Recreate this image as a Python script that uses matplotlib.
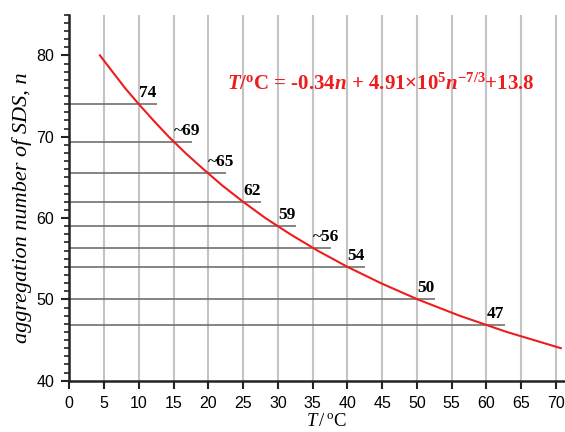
import matplotlib
matplotlib.use('Agg')
import matplotlib.pyplot as plt
from matplotlib.ticker import MultipleLocator

### curve: temperature (C) vs aggregation number
curve_T = [4.4, 6.2, 8.0, 10.0, 12.1, 14.3, 16.7, 19.3, 22.0, 25.0,
           28.2, 31.8, 35.7, 40.0, 44.8, 50.1, 56.1, 62.9, 70.7]
curve_n = [80, 78, 76, 74, 72, 70, 68, 66, 64, 62,
           60, 58, 56, 54, 52, 50, 48, 46, 44]

### marked levels
level_T = [10, 15, 20, 25, 30, 35, 40, 50, 60]
level_n = [74, 69.3, 65.5, 62, 59, 56.3, 54, 50, 46.8]
level_labels = ['74', '~69', '~65', '62', '59', '~56', '54', '50', '47']

x_ticks = list(range(0, 71, 5))
y_ticks = [40, 50, 60, 70, 80]

plt.rcParams['mathtext.fontset'] = 'custom'
plt.rcParams['mathtext.rm'] = 'Liberation Serif'
plt.rcParams['mathtext.it'] = 'Liberation Serif:italic'
plt.rcParams['mathtext.bf'] = 'Liberation Serif:bold'
plt.rcParams['mathtext.bfit'] = 'Liberation Serif:italic:bold'

fig = plt.figure(figsize=(5.65, 4.32), dpi=100)
ax = fig.add_axes([69.3 / 565, 51.3 / 432, 495.7 / 565, 366.0 / 432])

### vertical grid
for x in x_ticks[1:]:
    ax.axvline(x, color='#c4c4c4', lw=1.5, zorder=1)

### horizontal level lines + labels
for t, n, lab in zip(level_T, level_n, level_labels):
    ax.plot([0, t + 2.6], [n, n], color='#707070', lw=1.2, zorder=2,
            solid_capstyle='butt')
    ax.text(t, n + 0.4, lab, fontsize=12.5, fontweight='bold',
            family='Liberation Serif', ha='left', va='bottom', zorder=4)

### fitted curve
ax.plot(curve_T, curve_n, color='#ee1c1c', lw=1.5, zorder=3)

ax.text(22.7, 75.8,
        r'$\mathbfit{T}$/$^{\mathbf{o}}$C = -0.34$\mathbfit{n}$ + 4.91×10$^{\mathbf{5}}$$\mathbfit{n}^{\mathbf{-7/3}}$+13.8',
        color='#ee1c1c', fontsize=15, fontweight='bold',
        family='Liberation Serif', ha='left', va='baseline', zorder=5)

ax.set_xlim(0, 71.3)
ax.set_ylim(40, 85)
ax.set_xticks(x_ticks)
ax.set_yticks(y_ticks)
ax.yaxis.set_minor_locator(MultipleLocator(1))

for s in ['top', 'right']:
    ax.spines[s].set_visible(False)
for s in ['left', 'bottom']:
    ax.spines[s].set_linewidth(1.8)
    ax.spines[s].set_color('#222222')

ax.tick_params(axis='both', which='major', direction='out', length=6,
               width=1.5, color='#222222', labelsize=11.5, pad=5)
ax.tick_params(axis='y', which='minor', direction='out', length=3.5,
               width=1.2, color='#222222')
for lab in ax.get_xticklabels() + ax.get_yticklabels():
    lab.set_family('Liberation Sans')

ax.set_xlabel(r'$T\,/\,^{\mathrm{o}}\mathrm{C}$', fontsize=13.5)
ax.xaxis.set_label_coords(0.518, -0.083)
ax.set_ylabel('aggregation number of SDS, n', family='Liberation Serif',
              fontstyle='italic', fontsize=16)
ax.yaxis.set_label_coords(-0.075, 0.472)

plt.savefig('out.png', dpi=100)
